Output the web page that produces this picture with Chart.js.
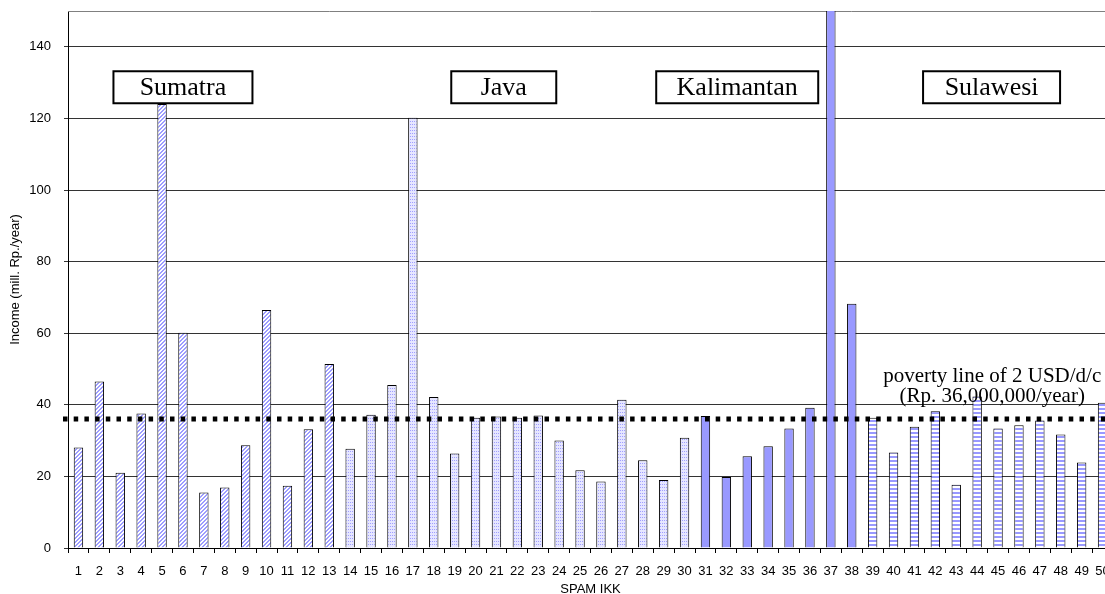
<!DOCTYPE html>
<html>
<head>
<meta charset="utf-8">
<title>Income per SPAM IKK</title>
<script src="https://cdn.jsdelivr.net/npm/chart.js@4.4.1/dist/chart.umd.min.js"></script>
<style>
  html, body { margin: 0; padding: 0; background: #fff; overflow: hidden; }
  canvas { display: block; }
</style>
</head>
<body>
<canvas id="incomeChart" width="1113" height="594"></canvas>
<script>
// SPAM IKK sites and yearly income (mill. Rp.)
const sites = ['1','2','3','4','5','6','7','8','9','10','11','12','13','14','15','16','17','18','19','20',
  '21','22','23','24','25','26','27','28','29','30','31','32','33','34','35','36','37','38','39','40',
  '41','42','43','44','45','46','47','48','49','50'];
const income = [28.1, 46.5, 21.0, 37.6, 124, 60.1, 15.5, 16.9, 28.7, 66.5,
  17.4, 33.2, 51.4, 27.7, 37.2, 45.5, 120.2, 42.2, 26.4, 36.4,
  36.7, 36.4, 37.0, 30.0, 21.7, 18.6, 41.4, 24.5, 19.0, 30.8,
  36.9, 19.8, 25.6, 28.4, 33.4, 39.2, 160, 68.2, 36.4, 26.7,
  33.9, 38.2, 17.7, 42.3, 33.4, 34.3, 35.6, 31.7, 23.9, 40.6];

// islands, and the first site of each island
const regionNames = ['Sumatra', 'Java', 'Kalimantan', 'Sulawesi'];
const regionFirstSite = [1, 14, 31, 39];

const povertyLine = 36;
const povertyLabel = ['poverty line of 2 USD/d/c', '(Rp. 36,000,000/year)'];

const yMax = 150;
const yStep = 20;

const canvas = document.getElementById('incomeChart');
const ctx = canvas.getContext('2d');

function tile(w, h, paint) {
  const c = document.createElement('canvas');
  c.width = w; c.height = h;
  const g = c.getContext('2d');
  g.fillStyle = '#fff';
  g.fillRect(0, 0, w, h);
  paint(g);
  return ctx.createPattern(c, 'repeat');
}

const fills = [
  // diagonal hatch
  tile(4, 4, g => {
    g.fillStyle = '#9d9dff';
    for (let y = 0; y < 4; y++)
      for (let x = 0; x < 4; x++)
        if ((x + y) % 4 < 2) g.fillRect(x, y, 1, 1);
  }),
  // fine dots
  tile(2, 3, g => {
    g.fillStyle = '#e6e6ff';
    g.fillRect(0, 0, 2, 3);
    g.fillStyle = '#a0a0ff';
    g.fillRect(0, 1, 1, 1);
  }),
  // solid
  '#9999ff',
  // horizontal stripes
  tile(4, 4, g => {
    g.fillStyle = '#9999ff';
    g.fillRect(0, 0, 4, 2);
  })
];

function regionOf(site) {
  let r = 0;
  regionFirstSite.forEach((first, i) => { if (site >= first) r = i; });
  return r;
}
const barFills = sites.map(s => fills[regionOf(+s)]);

// island name boxes: centre in category units, width in px
const boxLayout = [
  { at: 5.0, w: 139 },
  { at: 20.35, w: 105 },
  { at: 31.52, w: 162 },
  { at: 43.69, w: 137 }
];

const overlays = {
  id: 'overlays',
  beforeDatasetsDraw(chart) {
    const { ctx, chartArea } = chart;
    ctx.save();
    ctx.strokeStyle = '#808080';
    ctx.lineWidth = 1;
    ctx.beginPath();
    ctx.moveTo(chartArea.left, chartArea.top + 0.5);
    ctx.lineTo(chartArea.right, chartArea.top + 0.5);
    ctx.stroke();
    ctx.restore();
  },
  afterDatasetsDraw(chart) {
    const { ctx, chartArea, scales } = chart;
    const x = scales.x, y = scales.y;
    ctx.save();

    // poverty line
    const py = Math.round(y.getPixelForValue(povertyLine));
    ctx.strokeStyle = '#000';
    ctx.lineWidth = 5;
    ctx.setLineDash([4.5, 6.2]);
    ctx.beginPath();
    ctx.moveTo(chartArea.left - 5, py);
    ctx.lineTo(chartArea.right, py);
    ctx.stroke();
    ctx.setLineDash([]);

    ctx.fillStyle = '#000';
    ctx.font = '21px "Liberation Serif", "Times New Roman", serif';
    ctx.textAlign = 'center';
    ctx.textBaseline = 'middle';
    const tx = x.getPixelForValue(43.72);
    ctx.fillText(povertyLabel[0], tx, py - 43);
    ctx.fillText(povertyLabel[1], tx, py - 23);

    // island boxes
    const by = y.getPixelForValue(128.7);
    ctx.font = '26px "Liberation Serif", "Times New Roman", serif';
    regionNames.forEach((name, i) => {
      const bx = x.getPixelForValue(boxLayout[i].at);
      const w = boxLayout[i].w, h = 32;
      ctx.fillStyle = '#fff';
      ctx.fillRect(bx - w / 2, by - h / 2, w, h);
      ctx.strokeStyle = '#000';
      ctx.lineWidth = 2;
      ctx.strokeRect(bx - w / 2, by - h / 2, w, h);
      ctx.fillStyle = '#000';
      ctx.fillText(name, bx, by + 1);
    });
    ctx.restore();
  }
};

const tickFont = { family: '"Liberation Sans", Arial, sans-serif', size: 13 };

// fixed axis boxes, no extra padding for overhanging labels
function fixBox(size) {
  return scale => {
    if (scale.isHorizontal()) scale.height = size; else scale.width = size;
    scale.paddingTop = 0;
    scale.paddingBottom = 0;
    scale.paddingLeft = 0;
    scale.paddingRight = 0;
  };
}

new Chart(ctx, {
  type: 'bar',
  data: {
    labels: sites,
    datasets: [{
      data: income,
      backgroundColor: barFills,
      borderColor: '#000',
      borderWidth: 1,
      barPercentage: 0.45,
      categoryPercentage: 1
    }]
  },
  options: {
    responsive: false,
    animation: false,
    devicePixelRatio: 1,
    layout: { padding: { top: 11, right: 0, left: 0, bottom: 0 } },
    plugins: {
      legend: { display: false },
      tooltip: { enabled: false }
    },
    scales: {
      x: {
        grid: { drawOnChartArea: false, color: '#000', tickLength: 5, offset: true },
        border: { color: '#000', width: 1 },
        ticks: { color: '#000', font: tickFont, maxRotation: 0, autoSkip: false, padding: 11 },
        title: { display: true, text: 'SPAM IKK', color: '#000', font: tickFont, padding: { top: 0, bottom: -3 } },
        afterFit: fixBox(46)
      },
      y: {
        min: 0,
        max: yMax,
        grid: { color: '#333', tickLength: 4 },
        border: { color: '#000', width: 1 },
        ticks: { stepSize: yStep, includeBounds: false, color: '#000', font: tickFont, padding: 13 },
        title: { display: true, text: 'Income (mill. Rp./year)', color: '#000', font: tickFont, padding: { top: 8, bottom: 0 } },
        afterFit: fixBox(68)
      }
    }
  },
  plugins: [overlays]
});
</script>
</body>
</html>
